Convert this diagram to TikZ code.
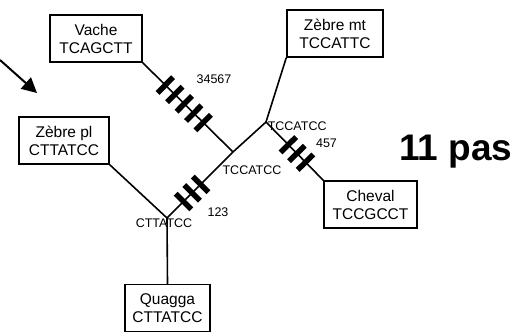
\documentclass[tikz,border=0pt]{standalone}
\usepackage{fontspec}
\setmainfont{Liberation Sans}
\usetikzlibrary{arrows.meta}
\begin{document}
\begin{tikzpicture}[x=1pt, y=-1pt, line width=1.6pt]
\tikzset{taxon/.style={draw,line width=1.5pt,minimum height=47pt,inner xsep=2pt,align=center,font=\fontsize{15.5}{18}\selectfont},
  seqlabel/.style={inner sep=0pt,font=\fontsize{12.5}{14}\selectfont},
  mutbar/.style={sloped,fill=black,inner sep=0pt,minimum width=5.5pt,minimum height=22pt}}
\useasboundingbox (0,0) rectangle (518,334);
\node[taxon,minimum width=92pt] (vache) at (96,38.5) {Vache\\TCAGCTT};
\node[taxon,minimum width=90pt] (zpl) at (64,140.5) {Zèbre pl\\CTTATCC};
\node[taxon,minimum width=96pt] (zmt) at (335,33.5) {Zèbre mt\\TCCATTC};
\node[taxon,minimum width=93pt] (cheval) at (370.5,204.5) {Cheval\\TCCGCCT};
\node[taxon,minimum width=85pt] (quagga) at (167.5,308) {Quagga\\CTTATCC};
% inner nodes of the tree
\coordinate (a) at (233,152);
\coordinate (b) at (266,122);
\coordinate (c) at (167,218);
\draw (vache.south east) -- (a);
\draw (zpl.south east) -- (c);
\draw (quagga.north) -- (c);
\draw (c) -- (a) -- (b);
\draw (b) -- (zmt.south west);
\draw (b) -- (cheval.north west);
% mutations
\path (vache.south east) -- (a) foreach \t in {0.25,0.355,0.46,0.565,0.67} {node[mutbar,pos=\t] {}};
\path (c) -- (a) foreach \t in {0.25,0.38,0.51} {node[mutbar,pos=\t] {}};
\path (b) -- (cheval.north west) foreach \t in {0.39,0.54,0.69} {node[mutbar,pos=\t] {}};
\node[seqlabel] (m1) at (214,79) {34567};
\node[seqlabel] (m2) at (218,212) {123};
\node[seqlabel] (m3) at (326.5,143) {457};
\node[seqlabel,anchor=west] (sb) at (267,126) {TCCATCC};
\node[seqlabel] (sa) at (252,170) {TCCATCC};
\node[seqlabel] (sc) at (164,223) {CTTATCC};
\node[inner sep=0pt,anchor=base,font=\fontsize{37}{40}\selectfont\bfseries] (score) at (456,160) {11 pas};
\coordinate (arrstart) at (0,60);
\coordinate (arrend) at (37,93);
\draw[line width=2pt,-{Triangle[length=15pt,width=15pt]}] (arrstart) -- (arrend);
\end{tikzpicture}
\end{document}
